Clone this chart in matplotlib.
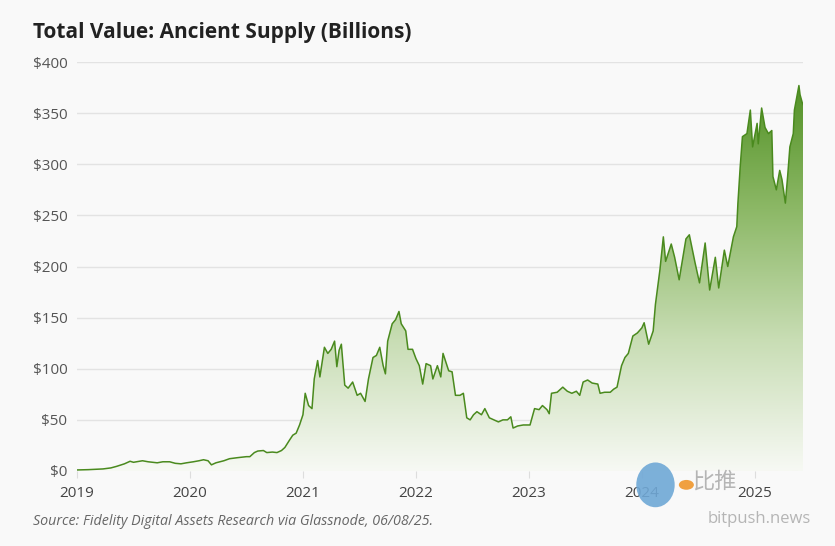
import matplotlib
matplotlib.use("Agg")
import matplotlib.pyplot as plt
import numpy as np
from matplotlib.colors import LinearSegmentedColormap
import matplotlib.patches as patches

# Ancient supply total value (billions USD), x in decimal years
years = [
    2019.00, 2019.10, 2019.23, 2019.30, 2019.35, 2019.42, 2019.47, 2019.50, 2019.55, 2019.58,
    2019.63, 2019.71, 2019.76, 2019.82, 2019.87, 2019.92, 2019.97, 2020.03, 2020.08, 2020.12,
    2020.16, 2020.19, 2020.23, 2020.30, 2020.35, 2020.42, 2020.50, 2020.53, 2020.57, 2020.60,
    2020.65, 2020.68, 2020.73, 2020.77, 2020.81, 2020.84, 2020.88, 2020.91, 2020.94, 2020.97,
    2021.00, 2021.02, 2021.05, 2021.08, 2021.10, 2021.13, 2021.15, 2021.19, 2021.22, 2021.25,
    2021.28, 2021.30, 2021.32, 2021.34, 2021.37, 2021.40, 2021.44, 2021.48, 2021.51, 2021.55,
    2021.58, 2021.62, 2021.65, 2021.68, 2021.71, 2021.73, 2021.75, 2021.79, 2021.82, 2021.85,
    2021.87, 2021.91, 2021.93, 2021.97, 2022.00, 2022.03, 2022.06, 2022.09, 2022.13, 2022.15,
    2022.19, 2022.22, 2022.24, 2022.29, 2022.32, 2022.35, 2022.39, 2022.42, 2022.45, 2022.48,
    2022.51, 2022.54, 2022.58, 2022.61, 2022.65, 2022.69, 2022.73, 2022.77, 2022.81, 2022.84,
    2022.86, 2022.90, 2022.95, 2023.01, 2023.05, 2023.09, 2023.12, 2023.16, 2023.18, 2023.20,
    2023.25, 2023.30, 2023.34, 2023.38, 2023.42, 2023.45, 2023.48, 2023.52, 2023.56, 2023.61,
    2023.63, 2023.67, 2023.72, 2023.75, 2023.78, 2023.82, 2023.85, 2023.88, 2023.92, 2023.96,
    2024.00, 2024.02, 2024.06, 2024.10, 2024.12, 2024.16, 2024.19, 2024.21, 2024.26, 2024.29,
    2024.33, 2024.39, 2024.42, 2024.47, 2024.51, 2024.56, 2024.60, 2024.65, 2024.68, 2024.73,
    2024.76, 2024.81, 2024.84, 2024.85, 2024.87, 2024.89, 2024.93, 2024.96, 2024.98, 2025.02,
    2025.03, 2025.06, 2025.09, 2025.12, 2025.15, 2025.16, 2025.19, 2025.22, 2025.24, 2025.27,
    2025.29, 2025.31, 2025.34, 2025.35, 2025.39, 2025.40, 2025.42, 2025.43,
]
values = [
    1, 1.3, 2, 3, 4.5, 7, 9.5, 8.5, 9.5, 10,
    9, 8, 9, 9, 7.5, 7, 8, 9, 10, 11,
    10, 6, 8, 10, 12, 13, 14, 14, 18, 19.5,
    20, 18, 18.5, 18, 20, 23, 30, 35, 37, 45,
    55, 76, 64, 61, 90, 108, 92, 121, 115, 119,
    127, 102, 118, 124, 84, 81, 87, 74, 76, 68,
    90, 111, 113, 121, 103, 95, 127, 144, 148, 156,
    144, 137, 119, 119, 110, 103, 85, 105, 103, 90,
    103, 92, 115, 98, 97, 74, 74, 76, 52, 50,
    55, 58, 55, 61, 52, 50, 48, 50, 50, 53,
    42, 44, 45, 45, 61, 60, 64, 60, 56, 76,
    77, 82, 78, 76, 78, 74, 87, 89, 86, 85,
    76, 77, 77, 80, 82, 103, 111, 115, 132, 135,
    140, 145, 124, 137, 163, 197, 229, 205, 222, 209,
    187, 227, 231, 204, 184, 223, 177, 209, 179, 216,
    200, 229, 239, 262, 297, 327, 330, 353, 317, 340,
    320, 355, 336, 330, 333, 288, 275, 294, 285, 262,
    288, 317, 330, 353, 377, 368, 360, 358,
]

year_ticks = [2019, 2020, 2021, 2022, 2023, 2024, 2025]
value_ticks = [0, 50, 100, 150, 200, 250, 300, 350, 400]

title = "Total Value: Ancient Supply (Billions)"
source = "Source: Fidelity Digital Assets Research via Glassnode, 06/08/25."

plt.rcParams['font.family'] = ['Open Sans', 'DejaVu Sans']
bg = '#f9f9f9'
line_color = '#4a8a1e'

x = np.array(years)
y = np.array(values)

fig = plt.figure(figsize=(8.35, 5.46), dpi=100, facecolor=bg)
ax = fig.add_axes([0.0922, 0.1374, 0.8700, 0.7490])
ax.set_facecolor(bg)

# gradient fill under the line, clipped to the area polygon
cmap = LinearSegmentedColormap.from_list('grn', ['#f7f9f4', '#c8ddb4', '#8cb866', '#4f8f22'])
grad = np.linspace(0, 1, 256).reshape(-1, 1)
area = ax.fill_between(x, y, 0, facecolor='none', edgecolor='none')
im = ax.imshow(grad, extent=[x.min(), x.max(), 0, 385], origin='lower',
               aspect='auto', cmap=cmap, zorder=2)
im.set_clip_path(area.get_paths()[0], transform=ax.transData)

ax.plot(x, y, color=line_color, lw=1.1, zorder=3)

ax.set_xlim(2019, 2025.43)
ax.set_ylim(0, 400)
ax.set_xticks(year_ticks)
ax.set_xticklabels([str(t) for t in year_ticks])
ax.set_yticks(value_ticks)
ax.set_yticklabels([f"${v}" for v in value_ticks])

for s in ax.spines.values():
    s.set_visible(False)
ax.grid(axis='y', color='#e3e3e3', lw=1.0, zorder=0)
ax.axhline(0, color='#dcdcdc', lw=1.0, zorder=1)
ax.tick_params(axis='y', length=0, pad=7, labelsize=11, labelcolor='#555555')
ax.tick_params(axis='x', length=5, color='#dddddd', pad=6, labelsize=11, labelcolor='#444444')

fig.text(0.0395, 0.941, title, fontsize=15, fontweight='bold', color='#222222', va='center')
fig.text(0.0395, 0.044, source, fontsize=10.3, style='italic', color='#666666', va='center')

# watermark
fig.patches.append(patches.Ellipse((0.785, 0.112), 0.046, 0.082, transform=fig.transFigure,
                                   facecolor='#6fa8d6', edgecolor='none', alpha=0.9, zorder=5))
fig.patches.append(patches.Circle((0.822, 0.112), 0.009, transform=fig.transFigure,
                                  facecolor='#f0a040', edgecolor='none', zorder=5))
fig.text(0.829, 0.118, "比推", fontsize=16, color='#b5b5b5',
         family=['Noto Sans CJK SC', 'DejaVu Sans'], va='center', zorder=6)
fig.text(0.847, 0.050, "bitpush.news", fontsize=12, color='#b5b5b5', va='center', zorder=6)

fig.savefig('out.png', dpi=100, facecolor=bg)
